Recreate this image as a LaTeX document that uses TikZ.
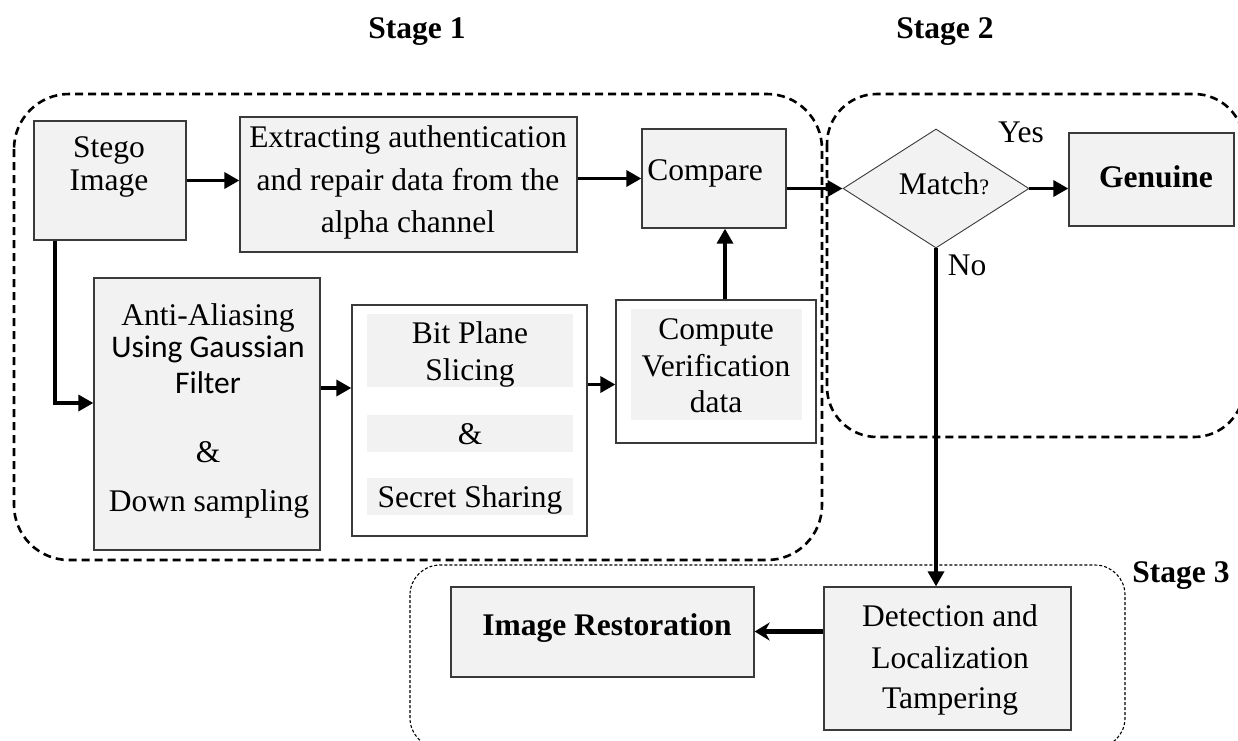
\documentclass[tikz,border=0pt]{standalone}
\usepackage{fontspec}
\setmainfont{Liberation Serif}
\newfontfamily\calibfont{Carlito}
\usetikzlibrary{arrows.meta,shapes.geometric}
\definecolor{boxfill}{HTML}{F2F2F2}
\definecolor{boxline}{HTML}{3A3A3A}

\tikzset{
  box/.style={draw=boxline, fill=boxfill, line width=1.3pt, inner sep=0pt},
  plainbox/.style={draw=boxline, fill=white, line width=1.3pt, inner sep=0pt},
  band/.style={fill=boxfill, draw=none, inner sep=0pt},
  txt/.style={inner sep=0pt, anchor=base, font=\fontsize{31.5}{36}\selectfont},
  boldtxt/.style={inner sep=0pt, anchor=base, font=\fontsize{31.5}{36}\selectfont\bfseries},
  sanstxt/.style={inner sep=0pt, anchor=base, font=\fontsize{31.5}{36}\selectfont\calibfont},
  flow/.style={line width=3.4pt, -{Triangle[length=15pt,width=16pt]}},
  flowback/.style={line width=4.2pt, -{Stealth[length=15pt,width=18pt]}},
  stagebig/.style={dash pattern=on 8pt off 5pt, line width=2.6pt},
  stagesmall/.style={dash pattern=on 3pt off 2pt, line width=1.1pt, rounded corners=30pt}
}

\begin{document}
\begin{tikzpicture}[x=1pt,y=-1pt]
\useasboundingbox (0,0) rectangle (1238,740);

% stage frames
\draw[stagebig, rounded corners=55pt] (14,94) rectangle (822,560);
\draw[stagebig, rounded corners=50pt] (827,94) rectangle (1244,437);
\draw[stagesmall] (410,565) rectangle (1125,748);

% stage titles
\node[boldtxt] (s1) at (417,38) {Stage 1};
\node[boldtxt] (s2) at (945,38) {Stage 2};
\node[boldtxt] (s3) at (1181,582) {Stage 3};

% stage 1 blocks
\node[box, minimum width=152pt, minimum height=119pt] (stego) at (110,180.5) {};
\node[txt] (stegoa) at (109,157) {Stego};
\node[txt] (stegob) at (109,190) {Image};

\node[box, minimum width=337pt, minimum height=135pt] (extract) at (408.5,184.5) {};
\node[txt] (exa) at (408,147) {Extracting authentication};
\node[txt] (exb) at (408,190) {and repair data from the};
\node[txt] (exc) at (408,232) {alpha channel};

\node[box, minimum width=144pt, minimum height=99pt] (compare) at (714,178.5) {};
\node[txt] (cmpt) at (705,180) {Compare};

\node[box, minimum width=226pt, minimum height=272pt] (aa) at (207,414) {};
\node[txt] (aaa) at (208,325) {Anti-Aliasing};
\node[sanstxt] (aab) at (208,357) {Using Gaussian};
\node[sanstxt] (aac) at (208,393) {Filter};
\node[txt] (aad) at (208,462) {\&};
\node[txt] (aae) at (209,511) {Down sampling};

\node[plainbox, minimum width=235pt, minimum height=231pt] (bit) at (469.5,420.5) {};
\node[band, minimum width=206pt, minimum height=73pt] (bitbanda) at (470,350.5) {};
\node[band, minimum width=206pt, minimum height=37pt] (bitbandb) at (470,433.5) {};
\node[band, minimum width=206pt, minimum height=37pt] (bitbandc) at (470,496.5) {};
\node[txt] (bita) at (470,343) {Bit Plane};
\node[txt] (bitb) at (470,380) {Slicing};
\node[txt] (bitc) at (470,444) {\&};
\node[txt] (bitd) at (470,507) {Secret Sharing};

\node[plainbox, minimum width=200pt, minimum height=143pt] (compute) at (716,371.5) {};
\node[band, minimum width=171pt, minimum height=111pt] (compband) at (716.5,364.5) {};
\node[txt] (cpa) at (716,339) {Compute};
\node[txt] (cpb) at (716,376) {Verification};
\node[txt] (cpc) at (716,412) {data};

% stage 2 blocks
\node[diamond, draw=boxline, fill=boxfill, line width=0.9pt, inner sep=0pt,
      minimum width=186pt, minimum height=119pt] (match) at (936,188.5) {};
\node[txt] (matcht) at (944,194) {Match{\fontsize{22}{24}\selectfont ?}};
\node[box, minimum width=165pt, minimum height=93pt] (genuine) at (1151.5,179.5) {};
\node[boldtxt] (genuinet) at (1156,187) {Genuine};
\node[txt] (yes) at (1021,142) {Yes};
\node[txt] (no) at (967,275) {No};

% stage 3 blocks
\node[box, minimum width=303pt, minimum height=90pt] (restore) at (602.5,632) {};
\node[boldtxt] (restoret) at (607,635) {Image Restoration};
\node[box, minimum width=247pt, minimum height=143pt] (detect) at (947.5,658.5) {};
\node[txt] (dta) at (950,626) {Detection and};
\node[txt] (dtb) at (950,668) {Localization};
\node[txt] (dtc) at (950,708) {Tampering};

% connectors
\draw[flow] (stego.east) -- (stego.east -| extract.west);
\draw[flow] (extract.east |- compare.west) -- (compare.west);
\draw[flow] (compare.east |- match.west) -- (match.west);
\draw[flow] (match.east) -- (match.east -| genuine.west);
\draw[flow] ([xshift=9pt]compute.north) -- ([xshift=9pt]compute.north |- compare.south);
\draw[flow] ([xshift=-55pt]stego.south) |- ([yshift=11pt]aa.west);
\draw[flow] ([yshift=26pt]aa.east) coordinate (aaout) -- (aaout -| bit.west);
\draw[flow] ([yshift=36pt]bit.east) coordinate (bitout) -- (bitout -| compute.west);
\draw[flow] (match.south) -- (match.south |- detect.north);
\draw[flowback] ([yshift=27pt]detect.west) coordinate (detout) -- (detout -| restore.east);
\end{tikzpicture}
\end{document}
